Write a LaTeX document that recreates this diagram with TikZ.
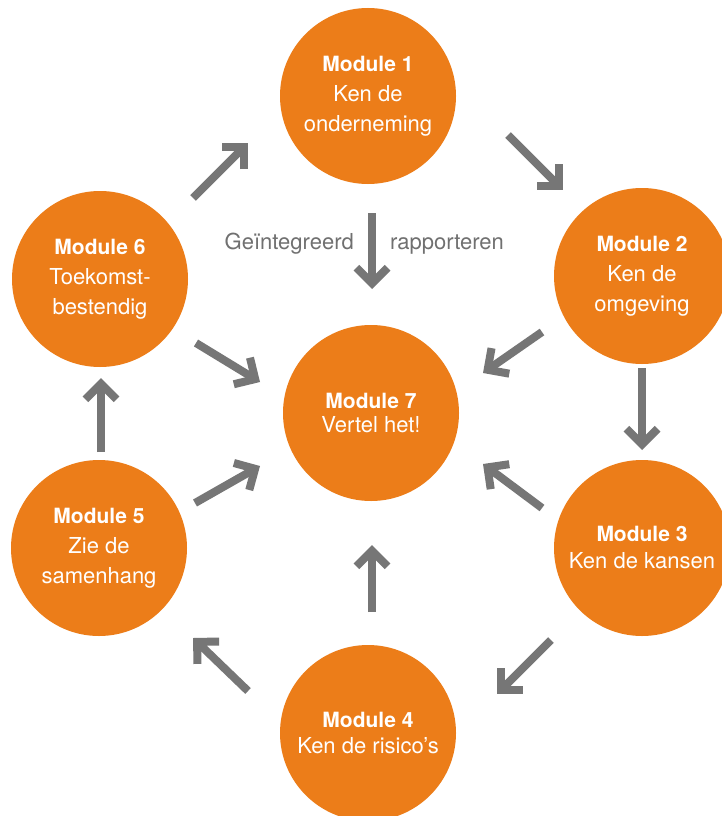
\documentclass[tikz,border=0pt]{standalone}
\usepackage{fontspec}
\setmainfont{TeX Gyre Heros}
\usetikzlibrary{calc}
\definecolor{modorange}{RGB}{236,125,25}
\definecolor{arrgray}{RGB}{118,118,118}
\definecolor{txtgray}{RGB}{112,112,112}
\newcommand\chevarrow[2]{%
  \draw[arrline] (#1) -- ($(#2)!5.66pt!(#1)$) coordinate (chevc);
  \draw[arrline] ($(chevc)!22pt!45:(#1)$) -- (chevc) -- ($(chevc)!22pt!-45:(#1)$);%
}
\newcommand\boldline[1]{{\fontsize{21}{30}\selectfont\bfseries #1}}
\begin{document}
\begin{tikzpicture}[x=1pt,y=-1pt,
  module/.style={circle, fill=modorange, minimum size=176pt, inner sep=0pt,
    text=white, align=center, font=\fontsize{22}{30}\selectfont},
  arrline/.style={draw=arrgray, line width=8pt, line cap=butt, line join=miter},
  lbl/.style={text=txtgray, font=\fontsize{22}{26}\selectfont, inner sep=0pt}]
\useasboundingbox (0,0) rectangle (721,816);
\fill[white] (0,0) rectangle (721,816);

\node[module] (m1) at (368,96) {\boldline{Module 1}\\Ken de\\onderneming};
\node[module] (m2) at (642,276) {\boldline{Module 2}\\Ken de\\omgeving};
\node[module, font=\fontsize{22}{27}\selectfont] (m3) at (642,548) {\boldline{Module 3}\\Ken de kansen};
\node[module, font=\fontsize{22}{26}\selectfont] (m4) at (368,733) {\boldline{Module 4}\\Ken de risico’s};
\node[module] (m5) at (99,548) {\boldline{Module 5}\\Zie de\\samenhang};
\node[module] (m6) at (100,279) {\boldline{Module 6}\\Toekomst-\\bestendig};
\node[module, font=\fontsize{22}{24}\selectfont] (m7) at (371,413) {\boldline{Module 7}\\Vertel het!};

\coordinate (a61s) at (193,198); \coordinate (a61t) at (248,143);
\coordinate (a12s) at (508,135); \coordinate (a12t) at (563,190);
\coordinate (a17s) at (372,213); \coordinate (a17t) at (372,289);
\coordinate (a27s) at (542,332); \coordinate (a27t) at (483,373);
\coordinate (a23s) at (642,368); \coordinate (a23t) at (642,450);
\coordinate (a37s) at (542,508); \coordinate (a37t) at (483,464);
\coordinate (a34s) at (551,640); \coordinate (a34t) at (497,694);
\coordinate (a47s) at (372,612); \coordinate (a47t) at (372,545);
\coordinate (a45s) at (248,691); \coordinate (a45t) at (193,638);
\coordinate (a56s) at (101,452); \coordinate (a56t) at (101,378);
\coordinate (a57s) at (195,503); \coordinate (a57t) at (260,466);
\coordinate (a67s) at (196,343); \coordinate (a67t) at (260,382);

\chevarrow{a61s}{a61t}
\chevarrow{a12s}{a12t}
\chevarrow{a17s}{a17t}
\chevarrow{a27s}{a27t}
\chevarrow{a23s}{a23t}
\chevarrow{a37s}{a37t}
\chevarrow{a34s}{a34t}
\chevarrow{a47s}{a47t}
\chevarrow{a45s}{a45t}
\chevarrow{a56s}{a56t}
\chevarrow{a57s}{a57t}
\chevarrow{a67s}{a67t}

\node[lbl, anchor=base east] (lg) at (354,249) {Geïntegreerd};
\node[lbl, anchor=base west] (lr) at (390,249) {rapporteren};
\end{tikzpicture}
\end{document}
